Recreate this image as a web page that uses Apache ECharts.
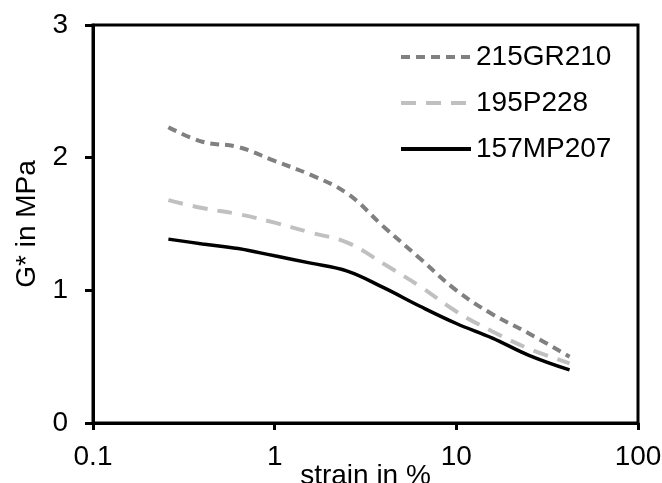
<!DOCTYPE html>
<html>
<head>
<meta charset="utf-8">
<script src="https://cdn.jsdelivr.net/npm/echarts@6/dist/echarts.min.js"></script>
<style>
  html, body { margin: 0; padding: 0; background: #fff; }
  #chart { width: 662px; height: 483px; }
</style>
</head>
<body>
<div id="chart"></div>
<script>
  // strain in %, shared by all three curves
  const strain = [0.26, 0.4, 0.63, 1, 1.58, 2.51, 3.98, 6.31, 10, 15.8, 25.1, 42];
  const g215GR210 = [2.23, 2.12, 2.08, 1.975, 1.87, 1.73, 1.48, 1.24, 1.0, 0.82, 0.675, 0.5];
  const g195P228 = [1.68, 1.62, 1.575, 1.51, 1.435, 1.36, 1.2, 1.03, 0.84, 0.69, 0.56, 0.45];
  const g157MP207 = [1.386, 1.35, 1.315, 1.26, 1.205, 1.145, 1.02, 0.88, 0.75, 0.64, 0.51, 0.4];

  const font = "Liberation Sans, Arial, sans-serif";

  function pairs(ys) {
    return strain.map(function (x, i) {
      return [x, ys[i]];
    });
  }

  let myChart = echarts.init(document.getElementById("chart"));
  let option = {
    animation: false,
    backgroundColor: "#fff",
    textStyle: { fontFamily: font, color: "#000" },
    grid: {
      left: 93,
      right: 24,
      top: 25,
      bottom: 60,
      containLabel: false,
      outerBoundsMode: "none",
      show: true,
      borderColor: "#000",
      borderWidth: 3,
    },
    legend: {
      orient: "vertical",
      left: 394,
      top: 38,
      itemWidth: 70,
      itemHeight: 14,
      itemGap: 18,
      itemStyle: { opacity: 0 },
      lineStyle: { width: 4 },
      textStyle: { fontFamily: font, fontSize: 28, color: "#000" },
      data: ["215GR210", "195P228", "157MP207"],
    },
    xAxis: {
      type: "log",
      logBase: 10,
      min: 0.1,
      max: 100,
      name: "strain in %",
      nameLocation: "middle",
      nameGap: 39,
      nameMoveOverlap: false,
      nameTextStyle: { fontFamily: font, fontSize: 28, color: "#000" },
      axisLine: { lineStyle: { color: "#000", width: 3 } },
      axisTick: { show: true, length: 7, lineStyle: { color: "#000", width: 3 } },
      minorTick: { show: false },
      splitLine: { show: false },
      axisLabel: { fontFamily: font, fontSize: 28, color: "#000", margin: 20 },
    },
    yAxis: {
      type: "value",
      min: 0,
      max: 3,
      interval: 1,
      name: "G* in MPa",
      nameLocation: "middle",
      nameGap: 52,
      nameMoveOverlap: false,
      nameTextStyle: { fontFamily: font, fontSize: 28, color: "#000" },
      axisLine: { show: true, lineStyle: { color: "#000", width: 3 } },
      axisTick: { show: true, length: 8, lineStyle: { color: "#000", width: 3 } },
      splitLine: { show: false },
      axisLabel: { fontFamily: font, fontSize: 28, color: "#000", margin: 25 },
    },
    series: [
      {
        name: "215GR210",
        type: "line",
        data: pairs(g215GR210),
        smooth: 0.4,
        symbol: "none",
        lineStyle: { color: "#808080", width: 4, type: [9, 6] },
        itemStyle: { color: "#808080" },
      },
      {
        name: "195P228",
        type: "line",
        data: pairs(g195P228),
        smooth: 0.4,
        symbol: "none",
        lineStyle: { color: "#c0c0c0", width: 4, type: [15, 10] },
        itemStyle: { color: "#c0c0c0" },
      },
      {
        name: "157MP207",
        type: "line",
        data: pairs(g157MP207),
        smooth: 0.4,
        symbol: "none",
        lineStyle: { color: "#000", width: 3.5 },
        itemStyle: { color: "#000" },
      },
    ],
  };
  option && myChart.setOption(option);
</script>
</body>
</html>
